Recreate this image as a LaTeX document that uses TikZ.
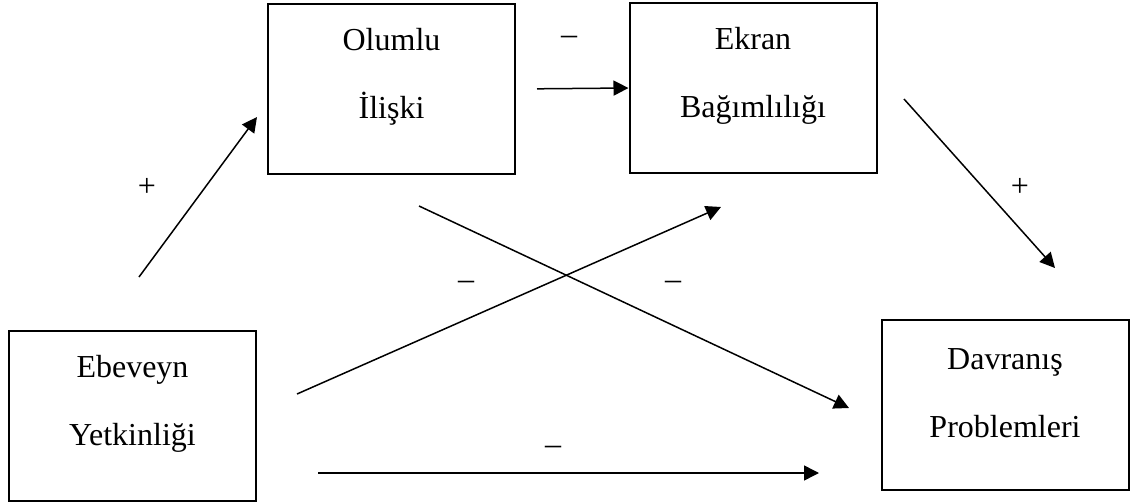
\documentclass[tikz,border=0pt]{standalone}
\usepackage{fontspec}
\setmainfont{Liberation Serif}
\usetikzlibrary{arrows.meta}
\tikzset{
  box/.style={draw, line width=1pt, minimum width=123.5pt, minimum height=85pt, inner sep=0pt},
  txt/.style={align=center, font=\fontsize{16}{34}\selectfont},
  sgn/.style={font=\fontsize{16}{18}\selectfont},
  arr/.style={line width=0.75pt, -{Triangle[length=7.5pt,width=7.5pt]}}
}
\begin{document}
\begin{tikzpicture}[x=0.5pt, y=-0.5pt]
    \useasboundingbox (0,0) rectangle (1136,503);
\foreach \n\x\y\a\b in {ol/391.5/89/Olumlu/İlişki, ek/753/88/Ekran/Bağımlılığı,
    eb/132.5/416/Ebeveyn/Yetkinliği, dv/1005/405/Davranış/Problemleri}{
    \node[box] (\n) at (\x,\y) {};
    \node[txt] (\n-t) at ([yshift=6pt]\n.center) {\a\\\b};
}

    % free ends of the connectors
    \coordinate (p1) at (139,277);
    \coordinate (p2) at (257,117);
    \coordinate (p3) at (904,99);
    \coordinate (p4) at (1055,268);
    \coordinate (p5) at (419,206);
    \coordinate (p6) at (849,408);
    \coordinate (p7) at (297,394);
    \coordinate (p8) at (721,207);
    \coordinate (p9) at (318,473);
    \coordinate (p10) at (819,473);

    \draw[arr] (p1) -- (p2);
    \draw[arr, shorten <=10.5pt] (ol.east) -- (ek.west);
    \draw[arr] (p3) -- (p4);
    \draw[arr] (p5) -- (p6);
    \draw[arr] (p7) -- (p8);
    \draw[arr] (p9) -- (p10);

\foreach \x\y\s in {147/187/+, 569/40/–, 1020/187/+, 466/285/–, 673/285/–, 553/450/–}{
    \node[sgn] at (\x,\y) {\s};
}
\end{tikzpicture}
\end{document}
